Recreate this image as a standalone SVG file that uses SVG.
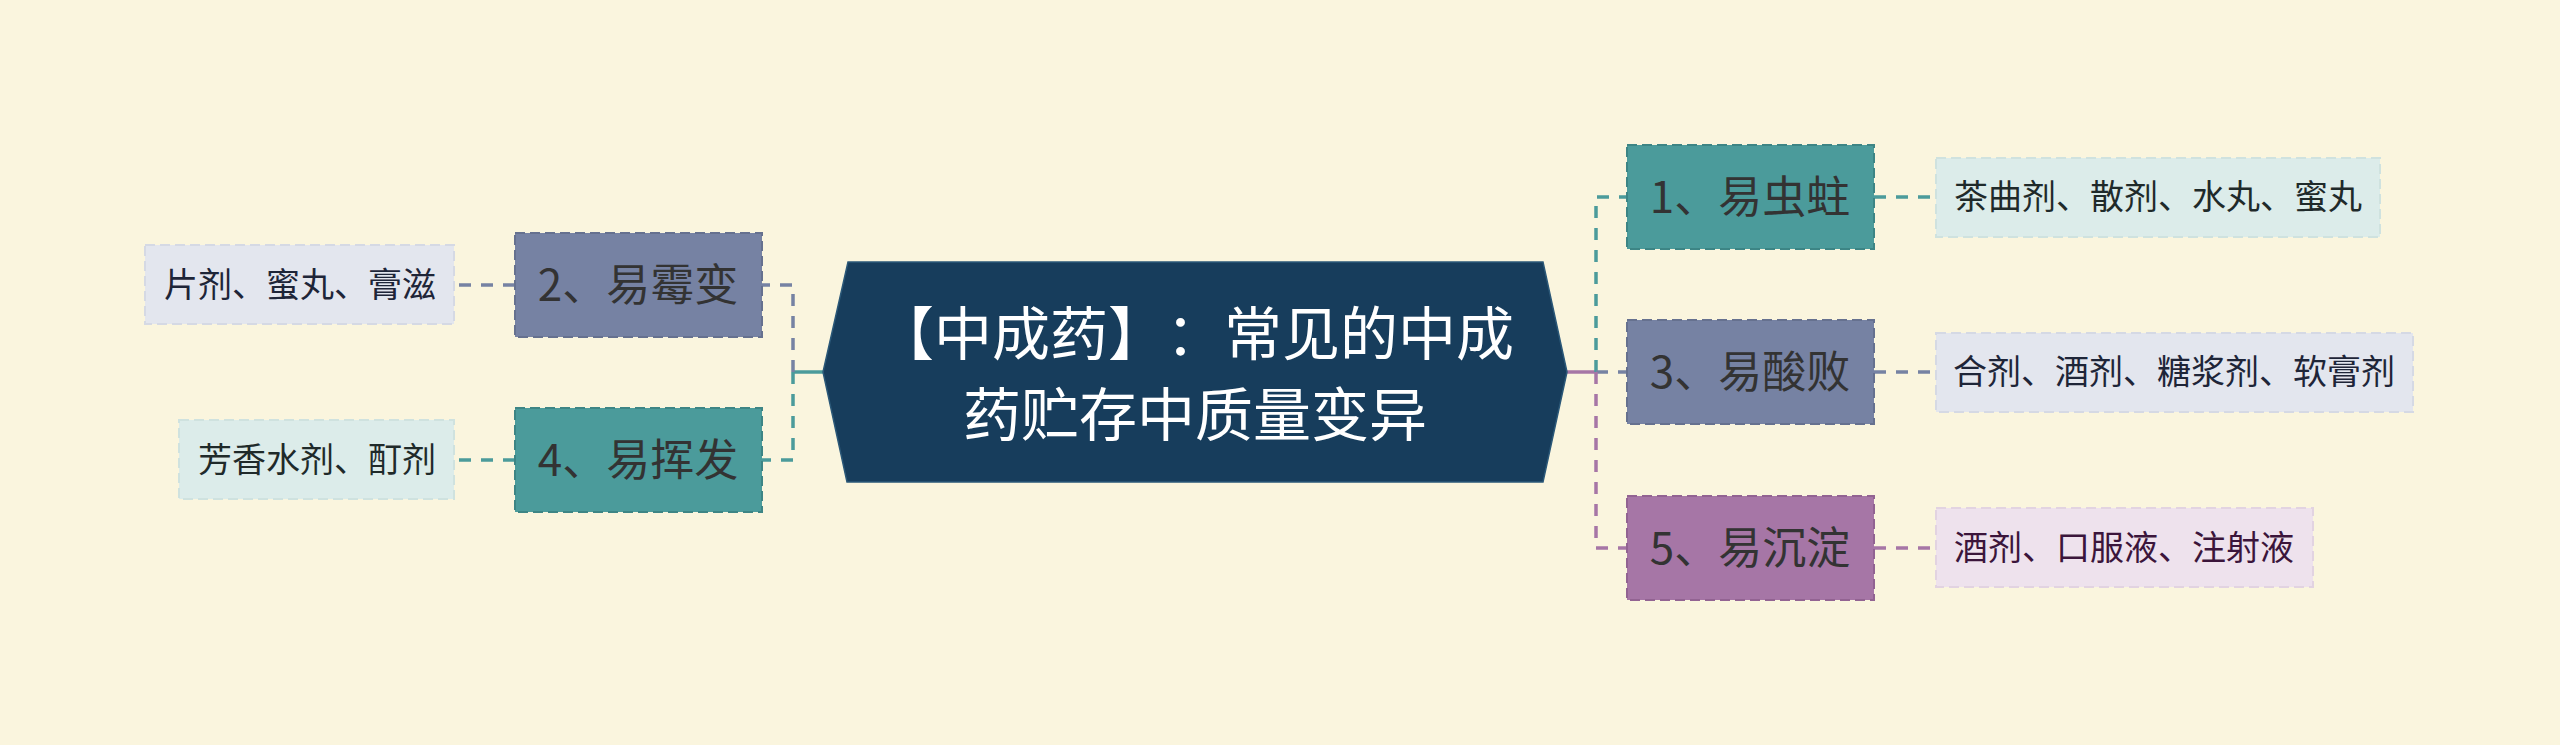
<svg xmlns="http://www.w3.org/2000/svg" width="2560" height="745" viewBox="0 0 2560 745">
<style>
text{font-family:"Noto Sans CJK SC","Noto Sans",sans-serif;text-anchor:middle;text-spacing-trim:space-all;font-feature-settings:"halt" 0}
.root-t{font-size:58px;fill:#ffffff}
.n-t{font-size:44px;fill:#333333}
.l-t{font-size:34px}
.c{fill:none;stroke-width:3.5;stroke-dasharray:12 10}
.stub{fill:none;stroke-width:3.5}
.teal{stroke:#4b9b9b}
.slate{stroke:#7682a3}
.purple{stroke:#a676a6}
.node{stroke-width:2;stroke-dasharray:10 5}
.leaf{stroke-width:2;stroke-dasharray:10 5}
</style>
<rect x="0" y="0" width="2560" height="745" fill="#faf5de"/>
<g id="connectors">
<path class="stub purple" d="M1567,372 H1596"/>
<path class="c teal" d="M1596,372 V197 H1627"/>
<path class="c slate" d="M1596,372 H1627"/>
<path class="c purple" d="M1596,372 V548 H1627"/>
<path class="stub teal" d="M823,372 H793"/>
<path class="c slate" d="M793,372 V285 H762"/>
<path class="c teal" d="M793,372 V460 H762"/>
<path class="c teal" d="M1874,197 H1936"/>
<path class="c slate" d="M1874,372 H1936"/>
<path class="c purple" d="M1874,548 H1936"/>
<path class="c slate" d="M515,285 H454"/>
<path class="c teal" d="M515,460 H454"/>
</g>
<g id="root">
<polygon points="848,262 1543,262 1567,372 1543,482 847,482 823,372" fill="#173d5c" stroke="#2b5878" stroke-width="1.5"/>
<text class="root-t" x="1195" y="355">【中成药】：常见的中成</text>
<text class="root-t" x="1195" y="436">药贮存中质量变异</text>
</g>
<g id="node1">
<rect class="node" x="1627" y="145" width="247" height="104" fill="#4b9b9b" stroke="#3d8585"/>
<text class="n-t" x="1750" y="213">1、易虫蛀</text>
</g>
<g id="node3">
<rect class="node" x="1627" y="320" width="247" height="104" fill="#7682a3" stroke="#66718f"/>
<text class="n-t" x="1750" y="388">3、易酸败</text>
</g>
<g id="node5">
<rect class="node" x="1627" y="496" width="247" height="104" fill="#a676a6" stroke="#926392"/>
<text class="n-t" x="1750" y="564">5、易沉淀</text>
</g>
<g id="node2">
<rect class="node" x="515" y="233" width="247" height="104" fill="#7682a3" stroke="#66718f"/>
<text class="n-t" x="638" y="301">2、易霉变</text>
</g>
<g id="node4">
<rect class="node" x="515" y="408" width="247" height="104" fill="#4b9b9b" stroke="#3d8585"/>
<text class="n-t" x="638" y="476">4、易挥发</text>
</g>
<g id="leaf1">
<rect class="leaf" x="1936" y="158" width="444" height="79" fill="#dcecea" stroke="#cfe2df"/>
<text class="l-t" x="2158" y="209" fill="#1f2a2a">茶曲剂、散剂、水丸、蜜丸</text>
</g>
<g id="leaf3">
<rect class="leaf" x="1936" y="333" width="477" height="79" fill="#e3e6ee" stroke="#d5d9e4"/>
<text class="l-t" x="2174" y="384" fill="#1e2538">合剂、酒剂、糖浆剂、软膏剂</text>
</g>
<g id="leaf5">
<rect class="leaf" x="1936" y="508" width="377" height="79" fill="#eee2ed" stroke="#e2d3e1"/>
<text class="l-t" x="2124" y="560" fill="#3b153b">酒剂、口服液、注射液</text>
</g>
<g id="leaf2">
<rect class="leaf" x="145" y="245" width="309" height="79" fill="#e3e6ee" stroke="#d5d9e4"/>
<text class="l-t" x="300" y="297" fill="#1e2538">片剂、蜜丸、膏滋</text>
</g>
<g id="leaf4">
<rect class="leaf" x="179" y="420" width="275" height="79" fill="#dcecea" stroke="#cfe2df"/>
<text class="l-t" x="317" y="472" fill="#1f2a2a">芳香水剂、酊剂</text>
</g>
</svg>
